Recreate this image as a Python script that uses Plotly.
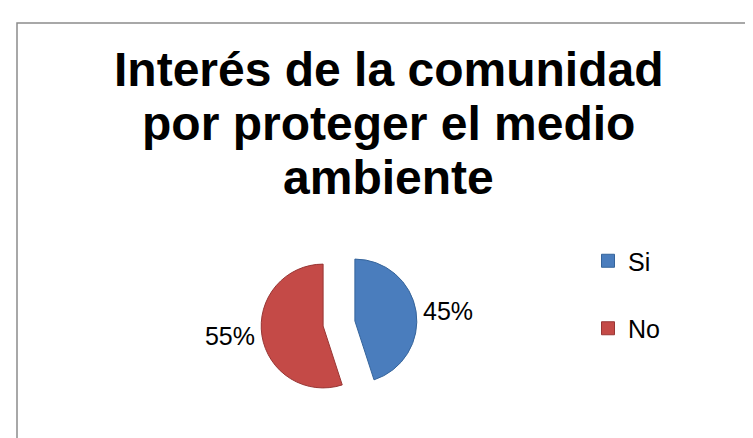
import plotly.graph_objects as go

categories = ["Si", "No"]
values = [45, 55]
colors = ["#4A7DBD", "#C44A47"]
edge_colors = ["#35649B", "#983634"]
title_lines = ["Interés de la comunidad", "por proteger el medio", "ambiente"]

W, H = 753, 438
FONT = "Liberation Sans, Arial, sans-serif"

fig = go.Figure()

cx, cy, half = 331, 315.5, 78
fig.add_trace(go.Pie(
    labels=categories,
    values=values,
    sort=False,
    direction="clockwise",
    rotation=0,
    pull=[0.26, 0.26],
    textinfo="percent",
    texttemplate="%{percent:.0%}",
    textposition="outside",
    textfont=dict(family=FONT, size=25, color="#000000"),
    marker=dict(colors=colors, line=dict(color=edge_colors, width=1)),
    domain=dict(x=[(cx - half) / W, (cx + half) / W],
                y=[(H - cy - half) / H, (H - cy + half) / H]),
    showlegend=False,
    hoverinfo="label+percent",
))

# legend entries
for i, (cat, col, ec) in enumerate(zip(categories, colors, edge_colors)):
    fig.add_trace(go.Scatter(
        x=[None], y=[None], mode="markers", name=cat,
        marker=dict(symbol="square", size=13, color=col, line=dict(color=ec, width=1)),
        legendgroup="g%d" % i, showlegend=True,
    ))

# title lines
centers = [61.5, 115.5, 169.5]
annotations = [
    dict(text="<b>%s</b>" % t, xref="paper", yref="paper",
         x=380 / W, y=1 - c / H, xanchor="center", yanchor="middle",
         showarrow=False, font=dict(family=FONT, size=48, color="#000000"))
    for t, c in zip(title_lines, centers)
]

fig.update_layout(
    width=W, height=H,
    margin=dict(l=0, r=0, t=0, b=0),
    paper_bgcolor="white",
    plot_bgcolor="white",
    xaxis=dict(visible=False),
    yaxis=dict(visible=False),
    annotations=annotations,
    legend=dict(
        x=580 / W, xanchor="left",
        y=1 - 230 / H, yanchor="top",
        font=dict(family=FONT, size=25, color="#000000"),
        tracegroupgap=32,
        bgcolor="rgba(0,0,0,0)",
    ),
    shapes=[dict(
        type="rect", xref="paper", yref="paper",
        x0=9 / W, x1=1.02, y0=-0.02, y1=1 - 15 / H,
        line=dict(color="#8C8C8C", width=1.5),
    )],
)

fig.write_html("out.html")
